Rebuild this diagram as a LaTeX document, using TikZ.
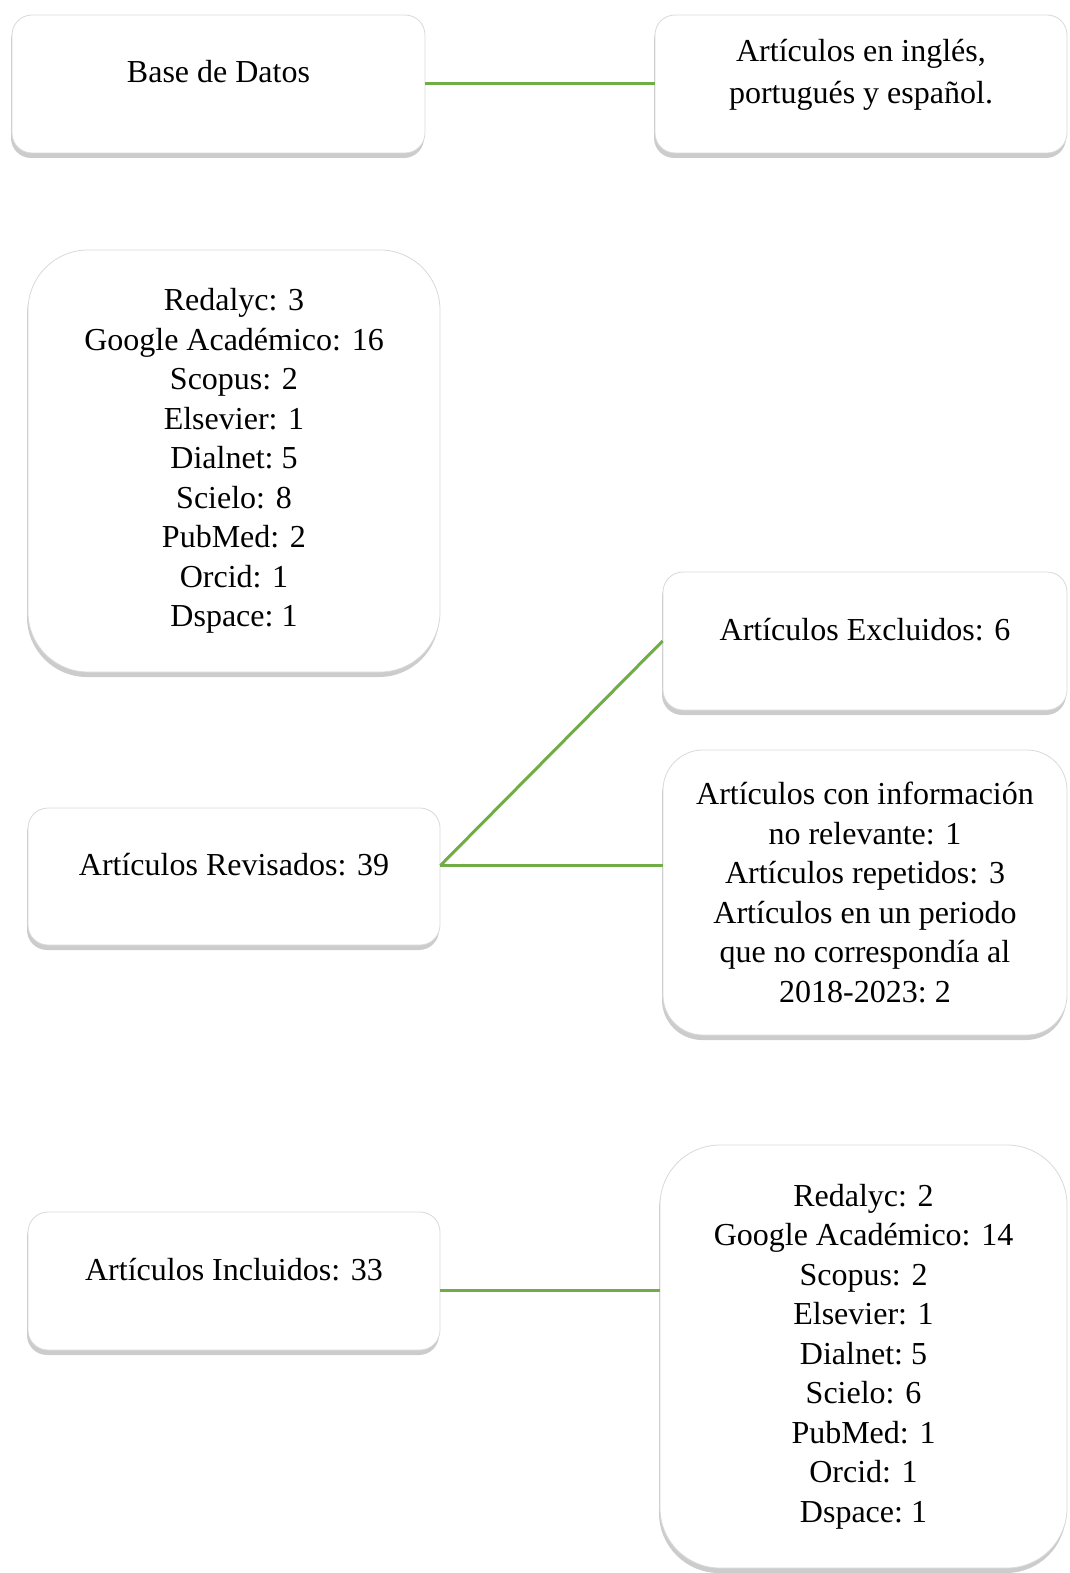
\documentclass[tikz,border=0pt]{standalone}
\usepackage{fontspec}
\setmainfont{Liberation Serif}
\usetikzlibrary{shadows}
\definecolor{linkgreen}{RGB}{112,173,71}
\tikzset{
  card/.style={draw=black!15, fill=white, rounded corners=10pt, align=center,
    font=\fontsize{16}{19.75}\selectfont, inner sep=2pt,
    drop shadow={shadow xshift=-0.5pt, shadow yshift=-2.5pt, fill=black!40}},
  flatcard/.style={card, text height=11pt, text depth=12pt},
  link/.style={linkgreen, line width=1.5pt}
}
\begin{document}
\begin{tikzpicture}[x=0.5pt, y=-0.5pt]
    \useasboundingbox (0,0) rectangle (1070,1573);
    % first row
    \node[flatcard, minimum width=206.5pt, minimum height=69pt] (db) at (218.5,84) {Base de Datos};
    \node[flatcard, font=\fontsize{16}{21}\selectfont, text height=32pt, minimum width=206pt, minimum height=69pt] (lang) at (861,84) {Artículos en inglés,\\ portugués y español.};
    % sources
    \node[card, rounded corners=30pt, minimum width=206pt, minimum height=211pt] (src) at (234,461)
        {Redalyc: 3\\ Google Académico: 16\\ Scopus: 2\\ Elsevier: 1\\ Dialnet:\ 5\\ Scielo: 8\\ PubMed: 2\\ Orcid: 1\\ Dspace:\ 1};
    % review
    \node[flatcard, minimum width=206pt, minimum height=68.5pt] (rev) at (234,876.5) {Artículos\ Revisados: 39};
    \node[flatcard, minimum width=202pt, minimum height=69pt] (excl) at (865,641) {Artículos Excluidos: 6};
    \node[card, rounded corners=20pt, minimum width=202pt, minimum height=142.5pt] (info) at (865,892.5)
        {Artículos con información\\ no relevante: 1\\ Artículos repetidos: 3\\ Artículos en un periodo\\ que no correspondía al\\ 2018-2023:\ 2};
    % included
    \node[flatcard, minimum width=206pt, minimum height=69pt] (incl) at (234,1281) {Artículos Incluidos: 33};
    \node[card, rounded corners=30pt, minimum width=203.5pt, minimum height=211.5pt] (final) at (863.5,1356.5)
        {Redalyc: 2\\ Google Académico: 14\\ Scopus: 2\\ Elsevier: 1\\ Dialnet:\ 5\\ Scielo: 6\\ PubMed: 1\\ Orcid: 1\\ Dspace:\ 1};
    % connectors
    \draw[link] (db.east) -- (lang.west);
    \coordinate (hub) at ([yshift=5.5pt]rev.east);
    \draw[link] (hub) -- (excl.west);
    \draw[link] (hub) -- (hub -| info.west);
    \coordinate (foot) at ([yshift=-4.5pt]incl.east);
    \draw[link] (foot) -- (foot -| final.west);
\end{tikzpicture}
\end{document}
